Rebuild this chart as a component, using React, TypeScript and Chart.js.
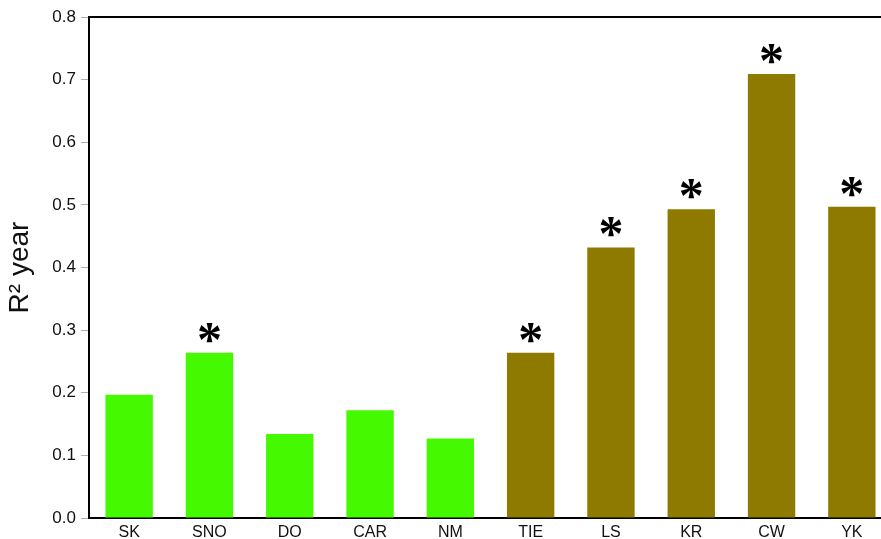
import React, { useEffect, useRef } from "react";
import { Chart, registerables } from "chart.js";

Chart.register(...registerables);

const sites = ["SK", "SNO", "DO", "CAR", "NM", "TIE", "LS", "KR", "CW", "YK"];
const r2Year = [0.197, 0.264, 0.134, 0.172, 0.127, 0.264, 0.432, 0.493, 0.709, 0.497];
const significant = [false, true, false, false, false, true, true, true, true, true];
const groupColors = ["#45fa00", "#45fa00", "#45fa00", "#45fa00", "#45fa00", "#8f7a00", "#8f7a00", "#8f7a00", "#8f7a00", "#8f7a00"];
const yTicks = [0, 0.1, 0.2, 0.3, 0.4, 0.5, 0.6, 0.7, 0.8];

const FONT = "'Liberation Sans', Arial, Helvetica, sans-serif";

// Draws the significance asterisks above bars and the top frame line.
const markersPlugin = {
  id: "markers",
  afterDatasetsDraw(chart: any) {
    const { ctx, chartArea } = chart;
    const meta = chart.getDatasetMeta(0);
    ctx.save();
    ctx.fillStyle = "#000";
    ctx.font = `bold 50px 'Liberation Serif', serif`;
    ctx.textAlign = "center";
    ctx.textBaseline = "alphabetic";
    const m = ctx.measureText("*");
    meta.data.forEach((bar: any, i: number) => {
      if (!significant[i]) return;
      const baseline = bar.y - 10 - m.actualBoundingBoxDescent;
      ctx.fillText("*", bar.x, baseline);
    });
    ctx.strokeStyle = "#000";
    ctx.lineWidth = 2;
    ctx.beginPath();
    ctx.moveTo(chartArea.left, chartArea.top);
    ctx.lineTo(chartArea.right, chartArea.top);
    ctx.stroke();
    ctx.restore();
  },
};

export default function App() {
  const canvasRef = useRef<HTMLCanvasElement | null>(null);

  useEffect(() => {
    if (!canvasRef.current) return;
    const chart = new Chart(canvasRef.current, {
      type: "bar",
      data: {
        labels: sites,
        datasets: [
          {
            data: r2Year,
            backgroundColor: groupColors,
            borderWidth: 0,
            barPercentage: 0.59,
            categoryPercentage: 1,
          },
        ],
      },
      options: {
        responsive: false,
        animation: false,
        layout: { padding: { top: 17, right: 0, bottom: 0, left: 0 } },
        plugins: {
          legend: { display: false },
          tooltip: { enabled: false },
        },
        scales: {
          x: {
            grid: { display: false, drawTicks: false },
            border: { display: true, color: "#000", width: 2 },
            ticks: {
              color: "#111",
              padding: 5,
              font: { family: FONT, size: 16 },
            },
            afterFit(scale: any) {
              scale.height = 21;
            },
          },
          y: {
            min: 0,
            max: 0.8,
            afterBuildTicks(scale: any) {
              scale.ticks = yTicks.map((v) => ({ value: v }));
            },
            grid: {
              display: true,
              drawOnChartArea: false,
              drawTicks: true,
              tickLength: 8,
              color: "#b0b0b0",
              lineWidth: 1,
            },
            border: { display: true, color: "#000", width: 2 },
            ticks: {
              color: "#111",
              padding: 5,
              font: { family: FONT, size: 17 },
              callback: (v: any) => Number(v).toFixed(1),
            },
            title: {
              display: true,
              text: "R² year",
              color: "#111",
              font: { family: FONT, size: 28 },
              padding: { top: 3, bottom: 0 },
            },
            afterFit(scale: any) {
              scale.width = 89;
            },
          },
        },
      },
      plugins: [markersPlugin],
    });
    return () => chart.destroy();
  }, []);

  return (
    <div
      style={{
        position: "absolute",
        left: 0,
        top: 0,
        width: 881,
        height: 539,
        overflow: "hidden",
        background: "#fff",
      }}
    >
      <canvas ref={canvasRef} width={892} height={539} />
    </div>
  );
}
